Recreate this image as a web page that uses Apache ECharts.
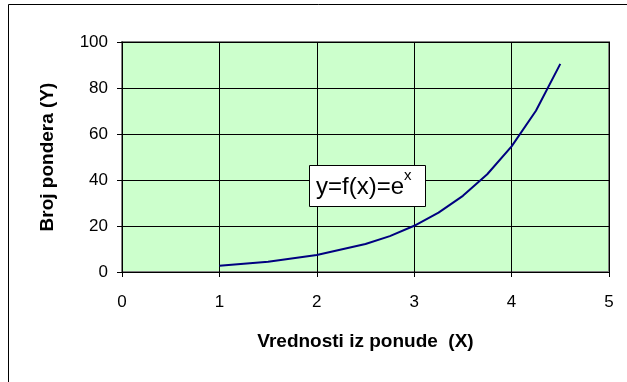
<!DOCTYPE html>
<html>
<head>
<meta charset="utf-8">
<script src="https://cdn.jsdelivr.net/npm/echarts@6/dist/echarts.min.js"></script>
<style>html,body{margin:0;padding:0;background:#fff;}#c{width:627px;height:382px;}</style>
</head>
<body>
<div id="c"></div>
<script>
// Data
const xValues = [1, 1.5, 2, 2.5, 2.75, 3, 3.25, 3.5, 3.75, 4, 4.25, 4.5];
const yValues = [2.7, 4.5, 7.4, 12.2, 15.6, 20.1, 25.8, 33.1, 42.5, 54.6, 70.1, 90.5];
const xTicks = [0, 1, 2, 3, 4, 5];
const yTicks = [0, 20, 40, 60, 80, 100];
const xTitle = 'Vrednosti iz ponude  (X)';
const yTitle = 'Broj pondera (Y)';
const boxText = 'y=f(x)=e';
const boxSup = 'x';

const FONT = 'Arial, "Liberation Sans", sans-serif';
const chart = echarts.init(document.getElementById('c'), null, {renderer: 'canvas'});
const points = xValues.map((x, i) => [x, yValues[i]]);

chart.setOption({
  animation: false,
  backgroundColor: '#ffffff',
  grid: {
    left: 122, right: 18, top: 42, bottom: 110,
    show: true, backgroundColor: '#CCFFCC', borderColor: '#808080', borderWidth: 2
  },
  xAxis: {
    type: 'value', min: xTicks[0], max: xTicks[xTicks.length - 1], interval: 1,
    name: xTitle, nameLocation: 'middle', nameGap: 60,
    nameTextStyle: {fontFamily: FONT, fontSize: 19, fontWeight: 'bold', color: '#000'},
    axisLine: {show: true, lineStyle: {color: '#000', width: 1}},
    axisTick: {show: true, inside: false, length: 5, lineStyle: {color: '#000'}},
    axisLabel: {fontFamily: FONT, fontSize: 17, color: '#000', margin: 22},
    splitLine: {show: true, lineStyle: {color: '#000', width: 1}}
  },
  yAxis: {
    type: 'value', min: yTicks[0], max: yTicks[yTicks.length - 1], interval: 20,
    name: yTitle, nameLocation: 'middle', nameGap: 65, nameRotate: 90,
    nameTextStyle: {fontFamily: FONT, fontSize: 19, fontWeight: 'bold', color: '#000'},
    axisLine: {show: true, lineStyle: {color: '#000', width: 1}},
    axisTick: {show: true, inside: false, length: 5, lineStyle: {color: '#000'}},
    axisLabel: {fontFamily: FONT, fontSize: 17, color: '#000', margin: 14},
    splitLine: {show: true, lineStyle: {color: '#000', width: 1}}
  },
  series: [{
    type: 'line', data: points, showSymbol: false, smooth: false,
    lineStyle: {color: '#000080', width: 2}, z: 3
  }],
  graphic: [
    {type: 'rect', shape: {x: 8.5, y: 4.5, width: 800, height: 600},
     style: {fill: 'none', stroke: '#000', lineWidth: 1}, silent: true, z: 0},
    {type: 'rect', shape: {x: 309.5, y: 165.5, width: 116, height: 41},
     style: {fill: '#fff', stroke: '#000', lineWidth: 1}, z: 10},
    {type: 'text', x: 316, y: 187, z: 11,
     style: {text: boxText, font: '24px ' + FONT, fill: '#000', verticalAlign: 'middle', align: 'left'}},
    {type: 'text', x: 404, y: 168, z: 11,
     style: {text: boxSup, font: '15px ' + FONT, fill: '#000', verticalAlign: 'top', align: 'left'}}
  ]
});
</script>
</body>
</html>
